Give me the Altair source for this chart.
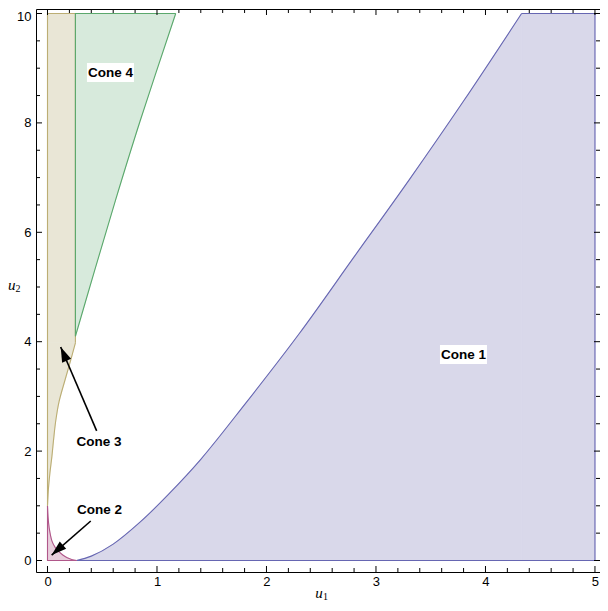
import altair as alt
import pandas as pd

# ---------------- data ----------------
# Cone 1: lower-right region, bounded above by a curve, then flat at u2 = 10 up to u1 = 5
cone1_u1 = [0.265, 0.4, 0.6, 0.85, 1.1, 1.4, 1.8, 2.3, 2.8, 3.3, 3.8, 4.33]
cone1_u2 = [0.0, 0.08, 0.3, 0.71, 1.2, 1.85, 2.85, 4.15, 5.55, 6.95, 8.4, 10.0]
cone1_top_u1 = [4.33, 5.0]
cone1_top_u2 = [10.0, 10.0]

# Cone 2: small region near the origin
cone2_u1 = [0.0, 0.005, 0.015, 0.04, 0.07, 0.1, 0.14, 0.18, 0.22, 0.265]
cone2_u2 = [1.0, 0.8, 0.6, 0.36, 0.24, 0.17, 0.1, 0.05, 0.02, 0.0]

# Cone 3: thin strip along the u2 axis (right boundary as a function of u2)
cone3_u2 = [1.0, 1.3, 1.6, 1.9, 2.2, 2.55, 2.9, 3.3, 3.65, 3.98]
cone3_u1 = [0.0, 0.008, 0.022, 0.04, 0.055, 0.075, 0.105, 0.16, 0.21, 0.255]
cone3_strip_u1 = 0.255
cone3_strip_u2 = [3.98, 10.0]

# Cone 4: wedge at the top (right boundary as a function of u2)
cone4_left = 0.255
cone4_u2 = [4.1, 5.3, 6.58, 8.03, 10.0]
cone4_u1 = [0.255, 0.43, 0.62, 0.845, 1.171]

# Labels
label_text = ["Cone 1", "Cone 2", "Cone 3", "Cone 4"]
label_u1 = [3.799, 0.475, 0.470, 0.575]
label_u2 = [3.766, 0.923, 2.166, 8.921]

# Arrows (tail -> tip)
arrow_tail_u1 = [0.449, 0.395]
arrow_tail_u2 = [2.369, 0.722]
arrow_tip_u1 = [0.1205, 0.038]
arrow_tip_u2 = [3.903, 0.100]
arrow_angle = [336.8, 228.9]

# Ticks
x_major = [0, 1, 2, 3, 4, 5]
x_minor = [0.2, 0.4, 0.6, 0.8, 1.2, 1.4, 1.6, 1.8, 2.2, 2.4, 2.6, 2.8,
           3.2, 3.4, 3.6, 3.8, 4.2, 4.4, 4.6, 4.8]
y_major = [0, 2, 4, 6, 8, 10]
y_minor = [0.5, 1, 1.5, 2.5, 3, 3.5, 4.5, 5, 5.5, 6.5, 7, 7.5, 8.5, 9, 9.5]

# ---------------- styling ----------------
W, H = 564, 563
xs = alt.Scale(domain=[-0.105, 5.046], nice=False, zero=False)
ys = alt.Scale(domain=[-0.2102, 10.0823], nice=False, zero=False)

xax = alt.Axis(values=x_major, format="d", tickSize=0, domain=False, grid=False,
               labelFont="Liberation Sans", labelFontSize=13, labelColor="#000000",
               labelPadding=3, title=None)
yax = alt.Axis(values=y_major, format="d", tickSize=0, domain=False, grid=False,
               labelFont="Liberation Sans", labelFontSize=13, labelColor="#000000",
               labelPadding=5, title=None,
               labelOffset={"condition": {"test": "datum.value == 10", "value": 2.5},
                            "value": 0})

X = lambda f: alt.X(f, scale=xs, axis=xax)
Y = lambda f: alt.Y(f, scale=ys, axis=yax)

COL = {
    "c1": ("#d9d8ea", "#6666b2"),
    "c2": ("#e8cedc", "#b0578a"),
    "c3": ("#e9e6d6", "#bcae74"),
    "c4": ("#d7eadc", "#5aa86c"),
}
CURVE = "catmull-rom"


def pts_df(pts):
    return pd.DataFrame({"u1": [p[0] for p in pts], "u2": [p[1] for p in pts],
                         "i": list(range(len(pts)))})


def vline(pts, color, interp="linear"):
    return alt.Chart(pts_df(pts)).mark_line(color=color, strokeWidth=1.1,
                                            interpolate=interp).encode(
        x=X("u1:Q"), y=Y("u2:Q"), order="i:Q")


def area(df, key, **kw):
    return alt.Chart(df).mark_area(color=COL[key][0], opacity=1, stroke=COL[key][0],
                                   strokeWidth=0.8, **kw)


layers = []

# ---- fills ----
c1 = pd.DataFrame({"u1": cone1_u1, "u2": cone1_u2, "z": 0.0})
c1t = pd.DataFrame({"u1": cone1_top_u1, "u2": cone1_top_u2, "z": 0.0})
layers.append(area(c1, "c1", interpolate=CURVE).encode(x=X("u1:Q"), y=Y("u2:Q"), y2="z:Q"))
layers.append(area(c1t, "c1").encode(x=X("u1:Q"), y=Y("u2:Q"), y2="z:Q"))

c2 = pd.DataFrame({"u1": cone2_u1, "u2": cone2_u2, "z": 0.0})
layers.append(area(c2, "c2", interpolate=CURVE).encode(x=X("u1:Q"), y=Y("u2:Q"), y2="z:Q"))

c3 = pd.DataFrame({"u1": cone3_u1, "u2": cone3_u2, "z": 0.0})
c3s = pd.DataFrame({"u1": [cone3_strip_u1] * len(cone3_strip_u2), "u2": cone3_strip_u2, "z": 0.0})
layers.append(area(c3, "c3", orient="horizontal", interpolate=CURVE)
              .encode(y=Y("u2:Q"), x=X("u1:Q"), x2="z:Q"))
layers.append(area(c3s, "c3", orient="horizontal")
              .encode(y=Y("u2:Q"), x=X("u1:Q"), x2="z:Q"))

c4 = pd.DataFrame({"u1": cone4_u1, "u2": cone4_u2, "z": cone4_left})
layers.append(area(c4, "c4", orient="horizontal", interpolate=CURVE)
              .encode(y=Y("u2:Q"), x=X("z:Q"), x2="u1:Q"))

# ---- outlines ----
layers.append(vline(list(zip(cone1_u1, cone1_u2)), COL["c1"][1], CURVE))
layers.append(vline([(cone1_top_u1[0], cone1_top_u2[0]), (cone1_top_u1[1], cone1_top_u2[1]),
                     (cone1_top_u1[1], 0.0), (cone1_u1[0], 0.0)], COL["c1"][1]))

layers.append(vline(list(zip(cone2_u1, cone2_u2)), COL["c2"][1], CURVE))
layers.append(vline([(cone2_u1[-1], 0.0), (0.0, 0.0), (0.0, cone2_u2[0])], COL["c2"][1]))

layers.append(vline(list(zip(cone3_u1, cone3_u2)), COL["c3"][1], CURVE))
layers.append(vline([(cone3_strip_u1, cone3_strip_u2[0]), (cone3_strip_u1, cone3_strip_u2[1]),
                     (0.0, cone3_strip_u2[1]), (0.0, cone3_u2[0])], COL["c3"][1]))

layers.append(vline(list(zip(cone4_u1, cone4_u2)), COL["c4"][1], CURVE))
layers.append(vline([(cone4_u1[-1], cone4_u2[-1]), (cone4_left, cone4_u2[-1]),
                     (cone4_left, cone4_u2[0])], COL["c4"][1]))

# ---- arrows ----
arr = pd.DataFrame({"x1": arrow_tail_u1, "y1": arrow_tail_u2,
                    "x2": arrow_tip_u1, "y2": arrow_tip_u2, "ang": arrow_angle})
layers.append(alt.Chart(arr).mark_rule(color="black", strokeWidth=1.6)
              .encode(x=X("x1:Q"), y=Y("y1:Q"), x2="x2:Q", y2="y2:Q"))
layers.append(alt.Chart(arr).mark_point(shape="M0,0L0.65,2L-0.65,2Z", size=225,
                                        filled=True, color="black", opacity=1,
                                        strokeWidth=0)
              .encode(x=X("x2:Q"), y=Y("y2:Q"), angle=alt.Angle("ang:Q", scale=None)))

# ---- labels with white background boxes ----
lab = pd.DataFrame({"u1": label_u1, "u2": label_u2, "t": label_text})
layers.append(alt.Chart(lab).mark_point(shape="M-2.35,-0.95L2.35,-0.95L2.35,0.95L-2.35,0.95Z",
                                        size=400, filled=True, color="white", opacity=1,
                                        strokeWidth=0)
              .encode(x=X("u1:Q"), y=Y("u2:Q")))
layers.append(alt.Chart(lab).mark_text(font="Liberation Sans", fontWeight="bold",
                                       fontSize=13.5, color="black", align="center",
                                       baseline="middle")
              .encode(x=X("u1:Q"), y=Y("u2:Q"), text="t:N"))


# ---- frame ticks (pointing inward, on all four sides) ----
def xticks(vals, length):
    df = pd.DataFrame({"t": vals})
    bottom = alt.Chart(df).mark_rule(color="black", strokeWidth=1).encode(
        x=X("t:Q"), y=alt.value(H), y2=alt.value(H - length))
    top = alt.Chart(df).mark_rule(color="black", strokeWidth=1).encode(
        x=X("t:Q"), y=alt.value(0), y2=alt.value(length))
    return [bottom, top]


def yticks(vals, length):
    df = pd.DataFrame({"t": vals})
    left = alt.Chart(df).mark_rule(color="black", strokeWidth=1).encode(
        y=Y("t:Q"), x=alt.value(0), x2=alt.value(length))
    right = alt.Chart(df).mark_rule(color="black", strokeWidth=1).encode(
        y=Y("t:Q"), x=alt.value(W), x2=alt.value(W - length))
    return [left, right]


layers += xticks(x_major, 6) + xticks(x_minor, 4) + yticks(y_major, 6) + yticks(y_minor, 4)


# ---- axis titles: italic u with a subscript ----
def title_text(txt, x, y, size, italic=True, align="left"):
    kw = dict(fontStyle="italic") if italic else {}
    return alt.Chart(pd.DataFrame({"k": [0]})).mark_text(
        text=txt, font="Liberation Serif", fontSize=size, color="black",
        align=align, baseline="alphabetic", **kw).encode(x=alt.value(x), y=alt.value(y))


layers += [
    title_text("u", 283, 589, 15, True, "center"),
    title_text("1", 287, 591, 10, False),
    title_text("u", -28, 281, 15, True),
    title_text("2", -20.5, 283, 10, False),
]

chart = alt.layer(*layers).properties(
    width=W, height=H,
    autosize=alt.AutoSizeParams(type="none"),
    padding={"left": 28, "top": 1, "right": 0, "bottom": 31},
).configure_view(stroke="black", strokeWidth=1)

chart.save("out.html", embed_options={"renderer": "svg", "actions": False})
